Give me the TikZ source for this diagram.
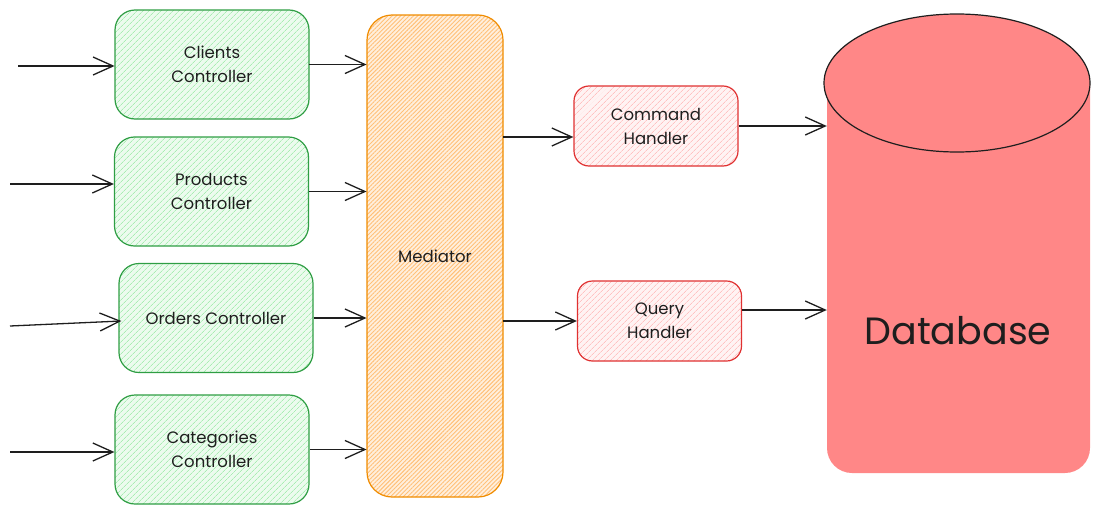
\documentclass[tikz,border=0pt]{standalone}
\usepackage{fontspec}
\setmainfont{Poppins}
\usetikzlibrary{arrows.meta,patterns.meta,shapes.geometric}
\definecolor{gstroke}{HTML}{2F9E44}
\definecolor{ghatch}{HTML}{A9EDB3}
\definecolor{ostroke}{HTML}{F08C00}
\definecolor{ohatch}{HTML}{FFC078}
\definecolor{rstroke}{HTML}{E03131}
\definecolor{rhatch}{HTML}{FFC2C2}
\definecolor{dbred}{HTML}{FF8787}
\definecolor{ink}{HTML}{1E1E1E}
\begin{document}
\begin{tikzpicture}[x=1pt,y=-1pt,
  boxbase/.style={line width=1.2pt, align=center, text=ink, inner sep=0pt,
    font=\fontsize{16.5}{24}\selectfont},
  ctrl/.style={boxbase, draw=gstroke, rounded corners=20pt,
    preaction={fill=ghatch!22},
    pattern={Lines[angle=45,distance=4pt,line width=0.8pt]}, pattern color=ghatch,
    minimum width=194pt, minimum height=109pt},
  medbox/.style={boxbase, draw=ostroke, rounded corners=25pt,
    preaction={fill=ohatch!25},
    pattern={Lines[angle=45,distance=3pt,line width=0.9pt]}, pattern color=ohatch,
    minimum width=136pt, minimum height=482pt},
  handler/.style={boxbase, draw=rstroke, rounded corners=15pt,
    preaction={fill=rhatch!20},
    pattern={Lines[angle=45,distance=4pt,line width=0.8pt]}, pattern color=rhatch,
    minimum width=164pt, minimum height=80pt},
  arr/.style={draw=ink, line width=1.3pt, -{Straight Barb[length=20pt,width=18pt,line width=1.3pt]}}
]
\useasboundingbox (0,0) rectangle (1103,514);

% controllers
\node[ctrl] (clients) at (212,64.5) {Clients\\Controller};
\node[ctrl] (products) at (211.5,191.5) {Products\\Controller};
\node[ctrl] (orders) at (216,318) {Orders Controller};
\node[ctrl] (categories) at (212,449.5) {Categories\\Controller};

% mediator
\node[medbox] (med) at (435,256) {Mediator};

% handlers
\node[handler] (cmd) at (656,126) {Command\\Handler};
\node[handler] (qry) at (659.5,321) {Query\\Handler};

% database cylinder
\fill[dbred] (827,84) [rounded corners=25pt] -- (827,473) -- (1090,473) [sharp corners] -- (1090,84) -- cycle;
\node[inner sep=0pt, minimum width=263pt, minimum height=389pt] (db) at (958.5,278.5) {};
\node[ellipse, draw=ink, fill=dbred, line width=1.2pt, inner sep=0pt,
      minimum width=266pt, minimum height=138pt] (dbtop) at (957,83) {};
\node[text=ink, font=\fontsize{38}{42}\selectfont] (dblabel) at (958,331) {Database};

% inputs
\coordinate (in1) at (18,66);
\coordinate (in2) at (10,184);
\coordinate (in3) at (10,326);
\coordinate (in4) at (10,452);
\draw[arr] (in1) -- (in1 -| clients.west);
\draw[arr] (in2) -- (in2 -| products.west);
\draw[arr] (in3) -- ([xshift=3pt,yshift=-3pt]orders.west);
\draw[arr] (in4) -- (in4 -| categories.west);

% controllers to mediator
\draw[arr] (clients.east) -- (clients.east -| med.west);
\draw[arr] (products.east) -- (products.east -| med.west);
\draw[arr] (orders.east) -- (orders.east -| med.west);
\draw[arr] (categories.east) -- (categories.east -| med.west);

% mediator to handlers
\draw[arr] ([yshift=-11pt]cmd.west -| med.east) -- ([yshift=-11pt]cmd.west);
\draw[arr] (qry.west -| med.east) -- (qry.west);

% handlers to database
\draw[arr] (cmd.east) -- (cmd.east -| db.west);
\draw[arr] ([yshift=11pt]qry.east) -- ([yshift=11pt]qry.east -| db.west);
\end{tikzpicture}
\end{document}
